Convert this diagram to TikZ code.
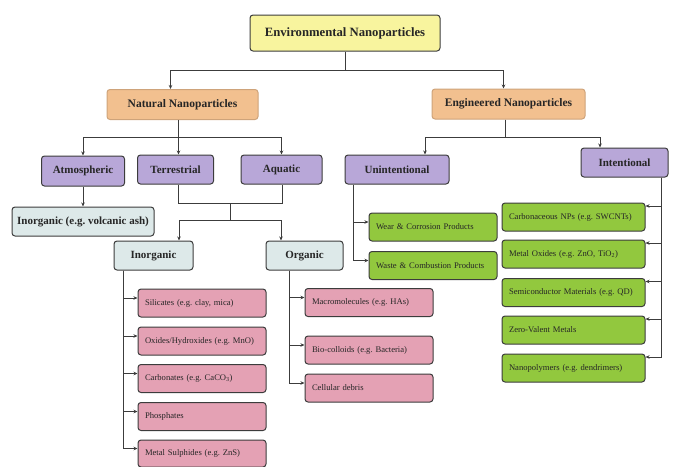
\documentclass[tikz,border=0pt]{standalone}
\usepackage{fontspec}
\setmainfont{Liberation Serif}
\usetikzlibrary{arrows.meta,positioning}

\definecolor{lineclr}{HTML}{3C3C3C}
\definecolor{titleclr}{HTML}{F8F49E}
\definecolor{natclr}{HTML}{F2C08F}
\definecolor{purpclr}{HTML}{B8A7D8}
\definecolor{blueclr}{HTML}{DDE9E9}
\definecolor{pinkclr}{HTML}{E4A1B4}
\definecolor{greenclr}{HTML}{92C83E}

\tikzset{
  box/.style={draw=lineclr, line width=1pt, rounded corners=3pt, inner sep=0pt, text=black!85},
  head/.style={box, font=\bfseries\fontsize{11}{13}\selectfont},
  leaf/.style={box, font=\fontsize{8.6}{10}\selectfont, align=left, inner xsep=7pt, text width=#1},
  arr/.style={-{Stealth[length=4pt,width=3.5pt]}},
  conn/.style={draw=lineclr, line width=0.9pt}
}

\begin{document}
\frenchspacing
\begin{tikzpicture}[x=1pt, y=-1pt]
  \useasboundingbox (0,0) rectangle (674,466);
  % top levels
  \node [head, fill=titleclr, minimum width=190pt, minimum height=36pt, font=\bfseries\fontsize{12.7}{14}\selectfont] (env) at (345,33) {Environmental Nanoparticles};
  \node [head, fill=natclr, draw=natclr!85!black, minimum width=151pt, minimum height=30pt, font=\bfseries\fontsize{11.5}{13}\selectfont] (nat) at (182.5,104.5) {Natural Nanoparticles};
  \node [head, fill=natclr, draw=natclr!85!black, minimum width=153pt, minimum height=30pt, font=\bfseries\fontsize{11.5}{13}\selectfont] (eng) at (508.5,104) {Engineered Nanoparticles};
  % sources
  \node [head, fill=purpclr, minimum width=83pt, minimum height=30pt] (atm) at (83,171) {Atmospheric};
  \node [head, fill=purpclr, minimum width=76pt, minimum height=29pt] (ter) at (175.5,169.5) {Terrestrial};
  \node [head, fill=purpclr, minimum width=81pt, minimum height=29pt] (aqu) at (281.5,169.5) {Aquatic};
  \node [head, fill=purpclr, minimum width=104pt, minimum height=29pt] (unint) at (397,169.5) {Unintentional};
  \node [head, fill=purpclr, minimum width=87pt, minimum height=29pt] (inten) at (624.5,162.5) {Intentional};
  % natural sub types
  \node [head, fill=blueclr, minimum width=142pt, minimum height=29pt] (volc) at (83,221.5) {Inorganic (e.g. volcanic ash)};
  \node [head, fill=blueclr, minimum width=79pt, minimum height=29pt] (inorg) at (153.5,255.5) {Inorganic};
  \node [head, fill=blueclr, minimum width=77pt, minimum height=29pt] (org) at (304.5,255.5) {Organic};
  % inorganic leaves
  \node [leaf=114pt, fill=pinkclr, minimum height=28pt] (sil) at (202,303) {Silicates (e.g. clay, mica)};
  \node [leaf=114pt, fill=pinkclr, minimum height=28pt] (oxi) at (202,341) {Oxides/Hydroxides (e.g. MnO)};
  \node [leaf=114pt, fill=pinkclr, minimum height=28pt] (carb) at (202,378.5) {Carbonates (e.g. CaCO\textsubscript{3})};
  \node [leaf=114pt, fill=pinkclr, minimum height=28pt] (phos) at (202,416.5) {Phosphates};
  \node [leaf=114pt, fill=pinkclr, minimum height=27pt] (sulph) at (202,453.5) {Metal Sulphides (e.g. ZnS)};
  % organic leaves
  \node [leaf=114pt, fill=pinkclr, minimum height=28pt] (macro) at (369,302.5) {Macromolecules (e.g. HAs)};
  \node [leaf=114pt, fill=pinkclr, minimum height=28pt] (bio) at (369,350) {Bio-colloids (e.g. Bacteria)};
  \node [leaf=114pt, fill=pinkclr, minimum height=28pt] (cell) at (369,388) {Cellular debris};
  % engineered leaves
  \node [leaf=114pt, fill=greenclr, minimum height=28pt] (wear) at (433,227) {Wear \& Corrosion Products};
  \node [leaf=114pt, fill=greenclr, minimum height=28pt] (waste) at (433,265.5) {Waste \& Combustion Products};
  \node [leaf=129pt, fill=greenclr, minimum height=28pt] (carbo) at (573.5,217) {Carbonaceous NPs (e.g. SWCNTs)};
  \node [leaf=129pt, fill=greenclr, minimum height=28pt] (moxi) at (573.5,254) {Metal Oxides (e.g. ZnO, TiO\textsubscript{2})};
  \node [leaf=129pt, fill=greenclr, minimum height=28pt] (semi) at (573.5,292.5) {Semiconductor Materials (e.g. QD)};
  \node [leaf=129pt, fill=greenclr, minimum height=28pt] (zero) at (573.5,330) {Zero-Valent Metals};
  \node [leaf=129pt, fill=greenclr, minimum height=28pt] (poly) at (573.5,368) {Nanopolymers (e.g. dendrimers)};
  \coordinate (split) at (230,203);

  \begin{scope}[conn]
    \draw [arr] (env.south) -- ++(0,19) -| ([xshift=-12pt]nat.north);
    \draw [arr] (env.south) -- ++(0,19) -| ([xshift=-5pt]eng.north);
    \draw [arr] ([xshift=-4pt]nat.south) -- ++(0,17.5) -| (atm.north);
    \draw [arr] ([xshift=-4pt]nat.south) -- ++(0,17.5) -| (aqu.north);
    \draw [arr] ([xshift=-4pt]nat.south) -- ([xshift=3pt]ter.north);
    \draw [arr] ([xshift=-3.5pt]eng.south) -- ++(0,18) -| ([xshift=28pt]unint.north);
    \draw [arr] ([xshift=-3.5pt]eng.south) -- ++(0,18) -| ([xshift=-24.5pt]inten.north);
    \draw [arr] (atm.south) -- (volc.north);
    \draw ([xshift=3pt]ter.south) -- ++(0,19) -| ([xshift=0.5pt]aqu.south);
    \draw [arr] (split) -- ++(0,17) -| ([xshift=25.5pt]inorg.north);
    \draw [arr] (split) -- ++(0,17) -| ([xshift=-23.5pt]org.north);
    \foreach \leaf in {sil,oxi,carb,phos,sulph}
      \draw [arr] ([xshift=-30.5pt]inorg.south) |- ([yshift=5pt]\leaf.west);
    \foreach \leaf in {macro,bio,cell}
      \draw [arr] ([xshift=-15.5pt]org.south) |- ([yshift=5pt]\leaf.west);
    \foreach \leaf in {wear,waste}
      \draw [arr] ([xshift=-44pt]unint.south) |- ([yshift=5pt]\leaf.west);
    \foreach \leaf in {carbo,moxi,semi,zero,poly}
      \draw [arr] ([xshift=36.5pt]inten.south) |- ([yshift=11pt]\leaf.east);
  \end{scope}
\end{tikzpicture}
\end{document}
